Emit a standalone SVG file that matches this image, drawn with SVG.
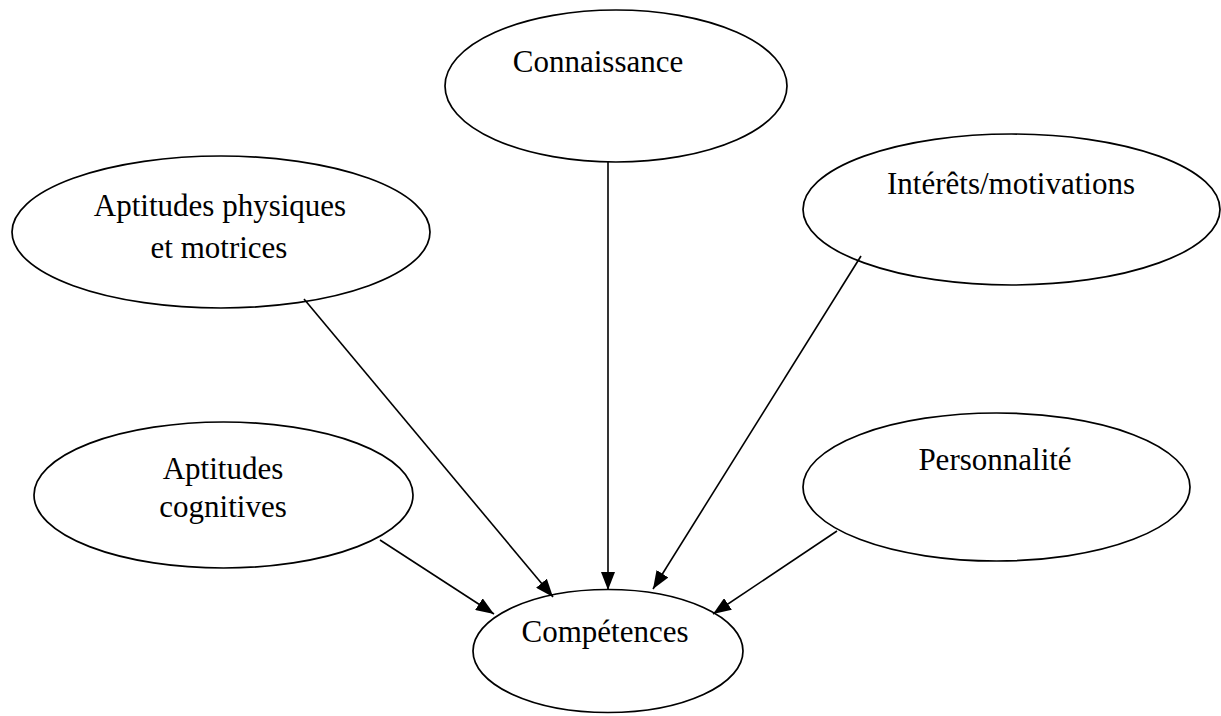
<svg xmlns="http://www.w3.org/2000/svg" width="1221" height="716" viewBox="0 0 1221 716">
  <style>
    .node ellipse { fill: #ffffff; stroke: #000000; stroke-width: 1.7; }
    .node text { font-family: "Liberation Serif", "Times New Roman", serif; font-size: 31px; fill: #000000; text-anchor: middle; }
    .edge { stroke: #000000; stroke-width: 1.6; fill: none; marker-end: url(#arrow); }
  </style>
  <defs>
    <marker id="arrow" viewBox="0 0 18 14" refX="18" refY="7" markerWidth="18" markerHeight="14" markerUnits="userSpaceOnUse" orient="auto">
      <path d="M0,0 L18,7 L0,14 Z" fill="#000000"/>
    </marker>
  </defs>
  <rect width="1221" height="716" fill="#ffffff"/>

  <!-- factors feeding into competences -->
  <g id="connaissance" class="node">
    <ellipse cx="616" cy="86" rx="171" ry="76"/>
    <text x="598" y="72">Connaissance</text>
  </g>
  <g id="aptitudes-physiques" class="node">
    <ellipse cx="221" cy="232" rx="209" ry="76"/>
    <text x="220" y="216">Aptitudes physiques</text>
    <text x="219" y="258">et motrices</text>
  </g>
  <g id="interets-motivations" class="node">
    <ellipse cx="1011.5" cy="209.5" rx="208.5" ry="75.5"/>
    <text x="1011" y="194">Intérêts/motivations</text>
  </g>
  <g id="aptitudes-cognitives" class="node">
    <ellipse cx="223.5" cy="495" rx="189.5" ry="73"/>
    <text x="223" y="479">Aptitudes</text>
    <text x="223" y="517">cognitives</text>
  </g>
  <g id="personnalite" class="node">
    <ellipse cx="996.5" cy="487" rx="193.5" ry="74"/>
    <text x="995" y="470">Personnalité</text>
  </g>
  <g id="competences" class="node">
    <ellipse cx="608" cy="651" rx="135" ry="61.5"/>
    <text x="605" y="642">Compétences</text>
  </g>

  <!-- connectors -->
  <g id="connectors">
    <line class="edge" x1="304" y1="299" x2="553" y2="597"/>
    <line class="edge" x1="608" y1="162" x2="608" y2="590"/>
    <line class="edge" x1="861" y1="256" x2="653" y2="589"/>
    <line class="edge" x1="380" y1="540" x2="494" y2="614"/>
    <line class="edge" x1="837" y1="531" x2="713" y2="614"/>
  </g>
</svg>
